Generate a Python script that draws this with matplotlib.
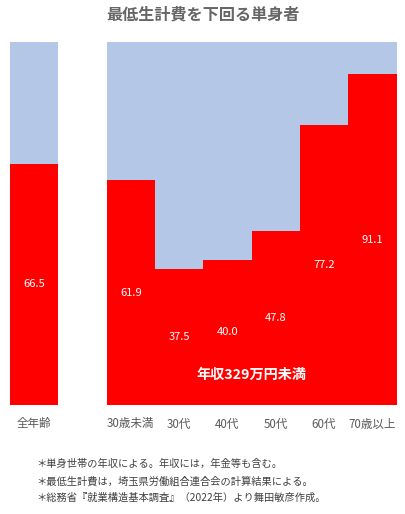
import matplotlib
matplotlib.use("Agg")
import matplotlib.pyplot as plt

plt.rcParams['font.family'] = ['Noto Sans CJK JP', 'DejaVu Sans']

categories = ["全年齢", "30歳未満", "30代", "40代", "50代", "60代", "70歳以上"]
values = [66.5, 61.9, 37.5, 40.0, 47.8, 77.2, 91.1]
positions = [0, 2, 3, 4, 5, 6, 7]
title = "最低生計費を下回る単身者"
inner_label = "年収329万円未満"
notes = [
    "＊単身世帯の年収による。年収には，年金等も含む。",
    "＊最低生計費は，埼玉県労働組合連合会の計算結果による。",
    "＊総務省『就業構造基本調査』（2022年）より舞田敏彦作成。",
]

W, H = 406, 514
fig = plt.figure(figsize=(W / 100, H / 100), dpi=100)
ax = fig.add_axes([10 / W, (H - 405) / H, 386.6 / W, 363 / H])

red = "#FF0000"
blue = "#B4C7E7"
rest = [100 - v for v in values]
ax.bar(positions, values, width=1.0, color=red, linewidth=0)
ax.bar(positions, rest, bottom=values, width=1.0, color=blue, linewidth=0)

for p, v in zip(positions, values):
    ax.text(p, v / 2, f"{v:.1f}", ha="center", va="center", color="white", fontsize=8)

ax.text(4.5, 8.2, inner_label, ha="center", va="center", color="white",
        fontsize=10.2, fontweight="bold")

ax.set_xlim(-0.5, 7.5)
ax.set_ylim(0, 100)
ax.set_xticks(positions)
ax.set_xticklabels(categories, fontsize=8.3, color="#595959")
ax.tick_params(axis="x", length=0, pad=9)
ax.set_yticks([])
for s in ax.spines.values():
    s.set_visible(False)

fig.text(0.5, 1 - 14 / H, title, ha="center", va="center", fontsize=11.6,
         fontweight="bold", color="#666666")

for i, n in enumerate(notes):
    fig.text(36 / W, 1 - (464 + 17 * i) / H, n, ha="left", va="center",
             fontsize=7.4, color="#404040")

fig.savefig("out.png", dpi=100)
